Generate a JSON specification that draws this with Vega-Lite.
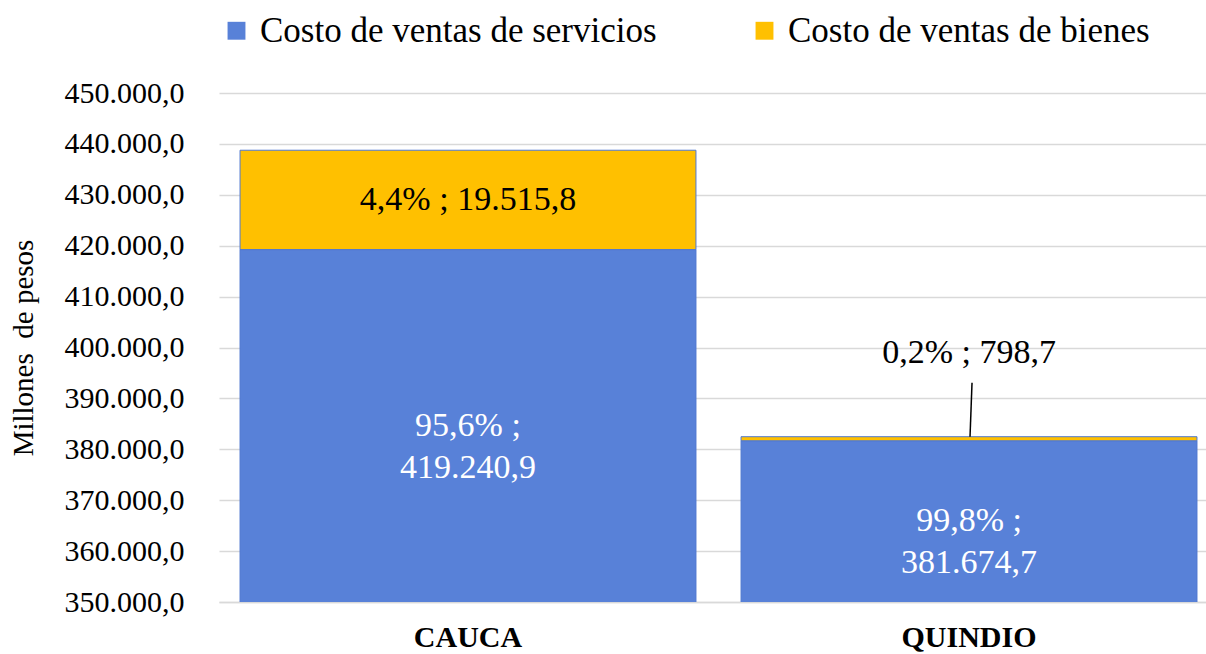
{
  "$schema": "https://vega.github.io/schema/vega-lite/v6.json",
  "autosize": "none",
  "width": 987,
  "height": 509,
  "padding": {"left": 219, "top": 93, "right": 0, "bottom": 52},
  "config": {
    "font": "Liberation Serif",
    "view": {"stroke": null},
    "locale": {"number": {"decimal": ",", "thousands": ".", "grouping": [3], "currency": ["$", ""]}}
  },
  "data": {
    "values": [
      {"dept": "CAUCA", "tipo": "Costo de ventas de servicios", "valor": 419240.9, "etiqueta": "95,6% ;\n419.240,9"},
      {"dept": "CAUCA", "tipo": "Costo de ventas de bienes", "valor": 19515.8, "etiqueta": "4,4% ; 19.515,8"},
      {"dept": "QUINDIO", "tipo": "Costo de ventas de servicios", "valor": 381674.7, "etiqueta": "99,8% ;\n381.674,7"},
      {"dept": "QUINDIO", "tipo": "Costo de ventas de bienes", "valor": 798.7, "etiqueta": "0,2% ; 798,7"}
    ]
  },
  "transform": [
    {"calculate": "datum.tipo === 'Costo de ventas de servicios' ? 0 : 1", "as": "orden"},
    {"stack": "valor", "groupby": ["dept"], "sort": [{"field": "orden"}], "as": ["v0", "v1"]},
    {"calculate": "(max(datum.v0, 350000) + datum.v1) / 2", "as": "medio"}
  ],
  "encoding": {
    "x": {
      "field": "dept",
      "type": "nominal",
      "sort": ["CAUCA", "QUINDIO"],
      "scale": {"paddingInner": 0.09, "paddingOuter": 0.03, "align": 0.7},
      "axis": {
        "title": null,
        "labelAngle": 0,
        "labelFontSize": 30,
        "labelFontWeight": "bold",
        "labelColor": "#000000",
        "labelPadding": 20,
        "ticks": false,
        "domainColor": "#d9d9d9",
        "domainWidth": 1.5
      }
    }
  },
  "layer": [
    {
      "mark": {"type": "bar", "clip": true, "stroke": "#4f78d0", "strokeWidth": 1},
      "encoding": {
        "y": {
          "field": "v0",
          "type": "quantitative",
          "scale": {"domain": [350000, 450000], "zero": false, "nice": false},
          "axis": {
            "title": "Millones\u00a0 de pesos",
            "titleFontSize": 29,
            "titleFontWeight": "normal",
            "titleColor": "#000000",
            "titlePadding": 26,
            "format": ",.1f",
            "values": [350000, 360000, 370000, 380000, 390000, 400000, 410000, 420000, 430000, 440000, 450000],
            "labelOverlap": false,
            "labelFontSize": 30,
            "labelColor": "#000000",
            "labelPadding": 35,
            "ticks": false,
            "domain": false,
            "gridColor": "#d9d9d9",
            "gridWidth": 1.5
          }
        },
        "y2": {"field": "v1"},
        "color": {
          "field": "tipo",
          "type": "nominal",
          "scale": {
            "domain": ["Costo de ventas de servicios", "Costo de ventas de bienes"],
            "range": ["#5881d8", "#ffc000"]
          },
          "legend": {
            "title": null,
            "orient": "none",
            "legendX": 0,
            "legendY": -80,
            "direction": "horizontal",
            "symbolType": "square",
            "symbolSize": 320,
            "symbolStrokeWidth": 0,
            "labelFontSize": 35,
            "labelColor": "#000000",
            "labelOffset": 6,
            "columnPadding": 90,
            "labelLimit": 600
          }
        }
      }
    },
    {
      "transform": [{"filter": "datum.valor >= 5000 && datum.orden === 0"}],
      "mark": {"type": "text", "fontSize": 34, "color": "#ffffff", "baseline": "middle", "lineBreak": "\n", "lineHeight": 42},
      "encoding": {
        "y": {"field": "medio", "type": "quantitative"},
        "text": {"field": "etiqueta", "type": "nominal"}
      }
    },
    {
      "transform": [{"filter": "datum.valor >= 5000 && datum.orden === 1"}],
      "mark": {"type": "text", "fontSize": 34, "color": "#000000", "baseline": "middle"},
      "encoding": {
        "y": {"field": "medio", "type": "quantitative"},
        "text": {"field": "etiqueta", "type": "nominal"}
      }
    },
    {
      "transform": [{"filter": "datum.valor < 5000"}],
      "mark": {"type": "text", "fontSize": 34, "color": "#000000", "baseline": "middle", "dy": -84},
      "encoding": {
        "y": {"field": "v1", "type": "quantitative"},
        "text": {"field": "etiqueta", "type": "nominal"}
      }
    },
    {
      "transform": [{"filter": "datum.valor < 5000"}],
      "mark": {"type": "rule", "color": "#000000", "strokeWidth": 1.5, "y2Offset": -54, "xOffset": 1, "x2Offset": 3},
      "encoding": {
        "y": {"field": "v1", "type": "quantitative"},
        "y2": {"field": "v1"},
        "x2": {"field": "dept"}
      }
    }
  ]
}
